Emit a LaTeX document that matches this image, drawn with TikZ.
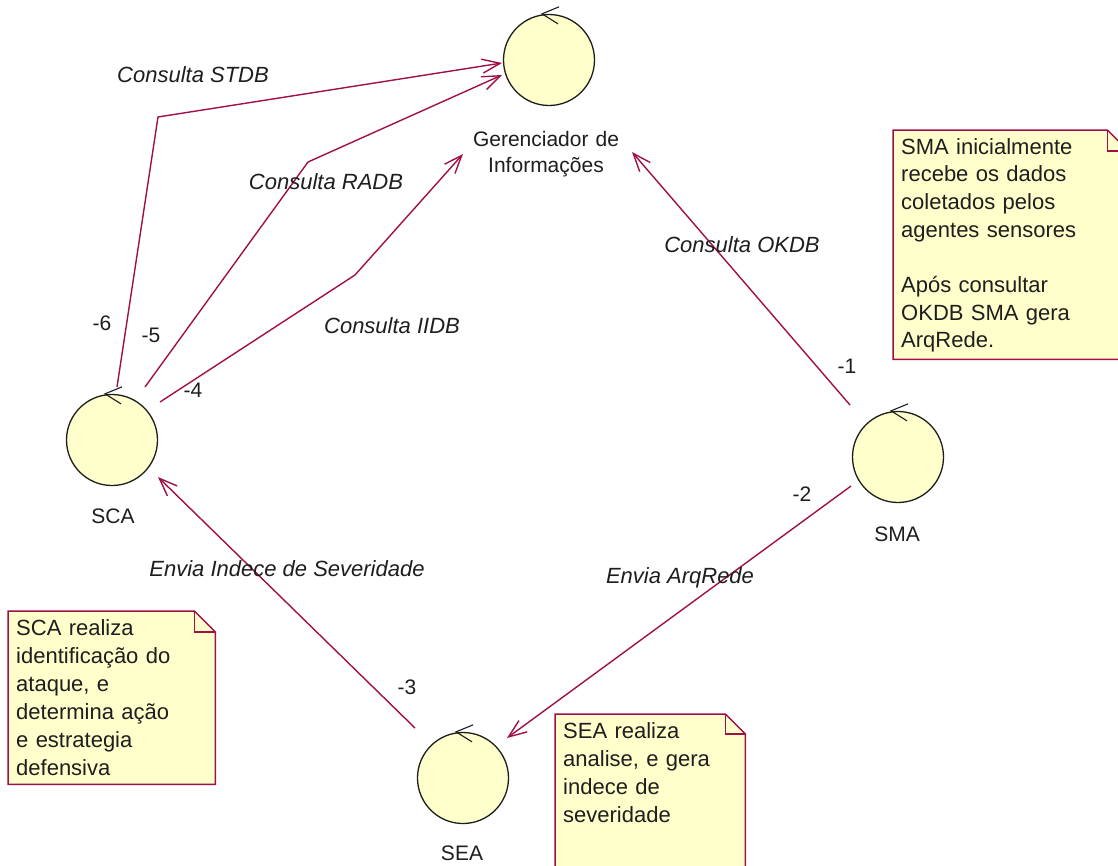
\documentclass[tikz,border=0pt]{standalone}
\usepackage{fontspec}
\setmainfont{Liberation Sans}
\usetikzlibrary{arrows.meta,calc}
\definecolor{wire}{RGB}{160,16,72}
\definecolor{paleyellow}{RGB}{255,255,204}
\definecolor{ink}{RGB}{30,30,30}
\begin{document}
\begin{tikzpicture}[x=1pt,y=-1pt,
  txt/.style={font=\fontsize{21}{27.7}\selectfont, text=ink, inner sep=0pt},
  ctrl/.style={circle, draw=ink, line width=1.3pt, fill=paleyellow,
    minimum size=91pt, inner sep=0pt},
  icon/.style={draw=ink, line width=1.1pt},
  msg/.style={draw=wire, line width=1.4pt,
    -{Straight Barb[length=18pt,width=14pt,line width=1.4pt]}},
  msglbl/.style={txt, font=\fontsize{22}{27.7}\selectfont\itshape, anchor=base},
  seqno/.style={txt, anchor=base},
  objname/.style={txt, anchor=base},
  notearea/.style={inner sep=0pt, anchor=north west},
  noteline/.style={draw=wire, line width=1.5pt, line join=miter},
  notetext/.style={txt, anchor=base west, align=left, text width=#1},
]
\fill[white] (0,0) rectangle (1118,865);
\useasboundingbox (0,0) rectangle (1118,865);
\clip (0,0) rectangle (1118,865);

% control objects
\node[ctrl] (gi)  at (549,60)  {};
\node[ctrl] (sca) at (112,440) {};
\node[ctrl] (sma) at (898,457) {};
\node[ctrl] (sea) at (463,778) {};

% control stereotype mark on top of each circle
\foreach \obj in {gi,sca,sma,sea}
  \draw[icon] (\obj.north) ++(10,-7) -- ++(-17,7) -- ++(16,10);

% object names
\node[objname, text width=170pt, align=center,
      font=\fontsize{21}{26}\selectfont] (gilbl) at (546,146.7)
      {Gerenciador de\\Informações};
\node[objname] (scalbl) at (113,523) {SCA};
\node[objname] (smalbl) at (897,541) {SMA};
\node[objname] (sealbl) at (462,860) {SEA};

% messages
\draw[msg] ([shift={(5,-53)}]sca.center) -- (158,117)
           -- ([shift={(-47,3)}]gi.center);
\draw[msg] ([shift={(33,-53)}]sca.center) -- (308,162)
           -- ([shift={(-47,15)}]gi.center);
\draw[msg] ([shift={(48,-38)}]sca.center) -- (355,275)
           -- ([shift={(-86,94)}]gi.center);
\draw[msg] ([shift={(-48,-52)}]sma.center) -- ([shift={(83,92)}]gi.center);
\draw[msg] ([shift={(-47,29)}]sma.center) -- ([shift={(44,-40)}]sea.center);
\draw[msg] ([shift={(-48,-50)}]sea.center) -- ([shift={(46,37)}]sca.center);

% message labels
\node[msglbl] (mstdb) at (193,82)  {Consulta STDB};
\node[msglbl] (mradb) at (326,189) {Consulta RADB};
\node[msglbl] (miidb) at (392,333) {Consulta IIDB};
\node[msglbl] (mokdb) at (742,252) {Consulta OKDB};
\node[msglbl] (menv1) at (287,576) {Envia Indece de Severidade};
\node[msglbl] (menv2) at (680,583) {Envia ArqRede};

% sequence numbers
\node[seqno] (s1) at (847,373) {-1};
\node[seqno] (s2) at (802,501) {-2};
\node[seqno] (s3) at (407,694) {-3};
\node[seqno] (s4) at (193,397) {-4};
\node[seqno] (s5) at (151,342) {-5};
\node[seqno] (s6) at (102,330) {-6};

% notes with folded corner
\node[notearea, minimum width=235pt, minimum height=229pt] (nsma) at (893,130) {};
\node[notearea, minimum width=207pt, minimum height=173pt] (nsca) at (8,611) {};
\node[notearea, minimum width=190pt, minimum height=170pt] (nsea) at (555,714) {};
\foreach \n/\f in {nsma/21,nsca/21,nsea/20} {
  \filldraw[noteline, fill=paleyellow] (\n.north west)
    -- ([xshift=-\f pt]\n.north east) -- ([yshift=-\f pt]\n.north east)
    -- (\n.south east) -- (\n.south west) -- cycle;
  \draw[noteline] ([xshift=-\f pt]\n.north east)
    -- ([xshift=-\f pt,yshift=-\f pt]\n.north east)
    -- ([yshift=-\f pt]\n.north east);
}

\node[notetext=215pt, font=\fontsize{22}{27.7}\selectfont] (tsma) at (901,154)
  {SMA inicialmente\\recebe os dados\\coletados pelos\\agentes sensores\\[27.7pt]
   Após consultar\\OKDB SMA gera\\ArqRede.};
\node[notetext=195pt, font=\fontsize{22}{28}\selectfont] (tsca) at (16,635)
  {SCA realiza\\identificação do\\ataque, e\\determina ação\\e estrategia\\defensiva};
\node[notetext=175pt, font=\fontsize{22}{28}\selectfont] (tsea) at (563,738)
  {SEA realiza\\analise, e gera\\indece de\\severidade};
\end{tikzpicture}
\end{document}
